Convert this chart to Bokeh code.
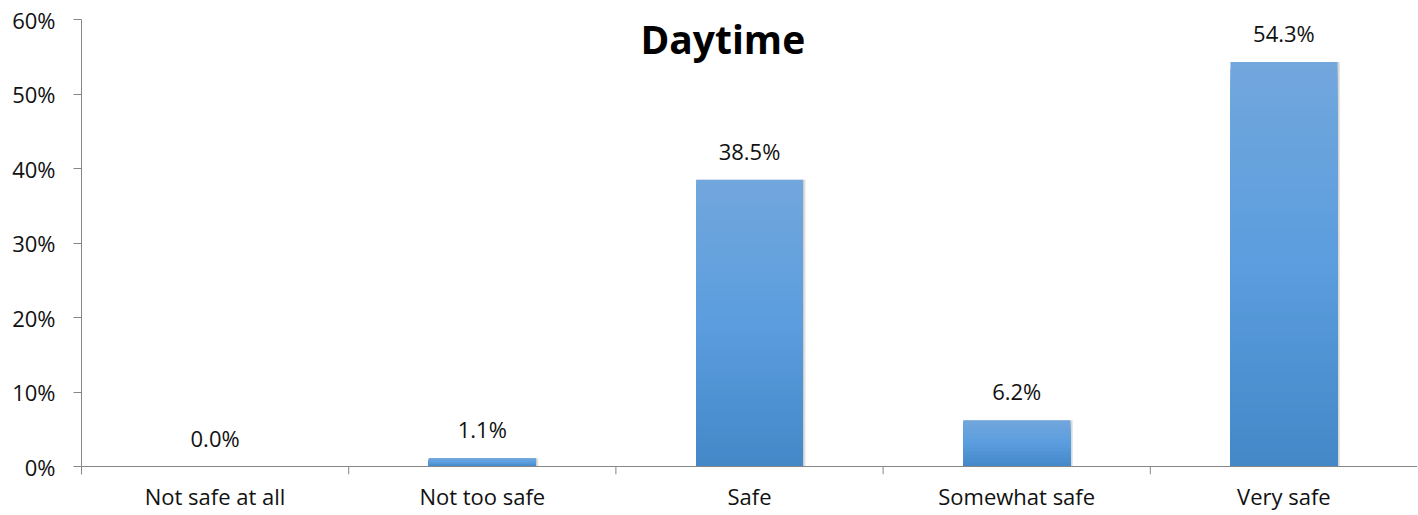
from bokeh.plotting import figure
from bokeh.models import (ColumnDataSource, Range1d, FixedTicker, NumeralTickFormatter,
                          CategoricalAxis, Label, Span)
from bokeh.transform import dodge
from bokeh.core.properties import value
from bokeh.embed import file_html
from bokeh.resources import INLINE

# ---- data ----
categories = ["Not safe at all", "Not too safe", "Safe", "Somewhat safe", "Very safe"]
shares = [0.000, 0.011, 0.385, 0.062, 0.543]
value_labels = ["0.0%", "1.1%", "38.5%", "6.2%", "54.3%"]
y_ticks = [0.0, 0.1, 0.2, 0.3, 0.4, 0.5, 0.6]
chart_title = "Daytime"

FONT = "Open Sans"
AXIS_GREY = "#868686"
Y_MAX = 0.6
PLOT_H = 447          # pixel height of 0..Y_MAX
TICK_PX = 8           # length of category separator ticks
Y_MIN = -Y_MAX * TICK_PX / PLOT_H

# gradient colours (top -> middle -> bottom)
TOP_C = (0x72, 0xA7, 0xDD)
MID_C = (0x5B, 0x9D, 0xDE)
BOT_C = (0x44, 0x88, 0xC8)


def grad(t):
    # t = 0 at top, 1 at bottom
    if t < 0.5:
        a, b, f = TOP_C, MID_C, t / 0.5
    else:
        a, b, f = MID_C, BOT_C, (t - 0.5) / 0.5
    c = [round(a[i] + (b[i] - a[i]) * f) for i in range(3)]
    return "#%02x%02x%02x" % tuple(c)


# nested bars (tallest first, lighter) give a seamless vertical gradient
N = 60
sx, st, sc = [], [], []
for i in range(N - 1, -1, -1):
    for cat, v in zip(categories, shares):
        if v <= 0:
            continue
        sx.append(cat)
        st.append(v * (i + 1) / N)
        sc.append(grad(1 - (i + 0.5) / N))
strips = ColumnDataSource(dict(cat=sx, top=st, color=sc))
src = ColumnDataSource(dict(cat=categories, val=shares, lab=value_labels))

p = figure(x_range=categories, y_range=Range1d(Y_MIN, Y_MAX),
           frame_width=1336, frame_height=PLOT_H + TICK_PX,
           min_border_left=81, min_border_top=19, min_border_right=0, min_border_bottom=0,
           x_axis_location=None, toolbar_location=None, output_backend="svg")
p.outline_line_color = None
p.xgrid.grid_line_color = None
p.ygrid.grid_line_color = None
p.background_fill_color = "white"
p.border_fill_color = "white"

# shadow
p.vbar(x=dodge("cat", 0.010, range=p.x_range), bottom=0, top="val", width=0.4,
       source=src, fill_color="#000000", fill_alpha=0.10, line_color=None)
p.vbar(x=dodge("cat", 0.005, range=p.x_range), bottom=0, top="val", width=0.4,
       source=src, fill_color="#000000", fill_alpha=0.10, line_color=None)

# gradient bars
p.vbar(x="cat", bottom=0, top="top", width=0.4, source=strips,
       fill_color="color", line_color=None)

# baseline (category axis line) and separator ticks between categories
p.add_layout(Span(location=0, dimension="width", line_color=AXIS_GREY, line_width=1))
bx = [(c, -0.5) for c in categories[1:]] + [(categories[-1], 0.5)]
p.segment(x0=bx, x1=bx, y0=[0] * len(bx), y1=[Y_MIN] * len(bx),
          line_color=AXIS_GREY, line_width=1)

# value labels
p.text(x="cat", y="val", text="lab", source=src, text_align="center",
       text_baseline="middle", y_offset=-29, text_font=value(FONT),
       text_font_size="22px", text_color="#111111")

# y axis
ya = p.yaxis[0]
ya.ticker = FixedTicker(ticks=y_ticks)
ya.formatter = NumeralTickFormatter(format="0%")
ya.axis_line_color = AXIS_GREY
ya.major_tick_line_color = AXIS_GREY
ya.major_tick_out = 8
ya.major_tick_in = 0
ya.minor_tick_line_color = None
ya.major_label_standoff = 18
ya.major_label_text_font = FONT
ya.major_label_text_font_size = "22px"
ya.major_label_text_color = "#111111"

cat_axis = CategoricalAxis(axis_line_color=None, major_tick_line_color=None,
                           minor_tick_line_color=None, major_tick_out=0, major_tick_in=0,
                           major_label_text_font=FONT, major_label_text_font_size="22px",
                           major_label_text_color="#111111", major_label_standoff=6)
p.add_layout(cat_axis, "below")

# chart title (overlaid, as in the original)
p.add_layout(Label(x=2.4, y=0.575, text=chart_title, text_font=FONT,
                   text_font_style="bold", text_font_size="39px",
                   text_align="center", text_baseline="alphabetic",
                   text_color="#000000"))

open("out.html", "w").write(file_html(p, INLINE))
